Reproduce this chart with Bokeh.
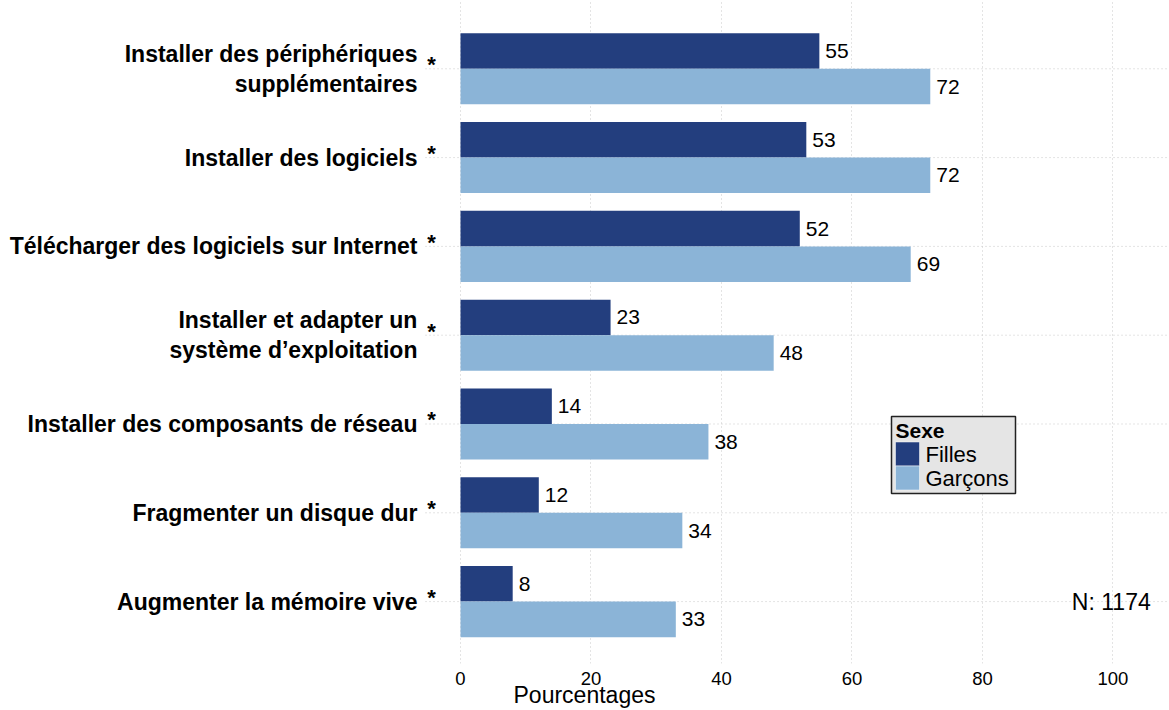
from bokeh.plotting import figure
from bokeh.models import ColumnDataSource, FixedTicker, Range1d, Label
from bokeh.core.properties import value
from bokeh.embed import file_html
from bokeh.resources import INLINE

categories = [
    "Installer des périphériques\nsupplémentaires",
    "Installer des logiciels",
    "Télécharger des logiciels sur Internet",
    "Installer et adapter un\nsystème d’exploitation",
    "Installer des composants de réseau",
    "Fragmenter un disque dur",
    "Augmenter la mémoire vive",
]
filles = [55, 53, 52, 23, 14, 12, 8]
garcons = [72, 72, 69, 48, 38, 34, 33]
series_names = ["Filles", "Garçons"]
legend_title = "Sexe"
x_ticks = [0, 20, 40, 60, 80, 100]
n_label = "N: 1174"

DARK = "#233E7E"
LIGHT = "#8BB4D7"
FONT = "Liberation Sans"
GRID = "#c8c8c8"

FW, FH = 1168, 663
XR = (-70.50, 108.51)
YR = (0.303, 7.769)

n = len(categories)
pos = [n - i for i in range(n)]

src_f = ColumnDataSource(dict(y=[p_ + 0.2 for p_ in pos], v=filles, t=[str(v) for v in filles]))
src_g = ColumnDataSource(dict(y=[p_ - 0.2 for p_ in pos], v=garcons, t=[str(v) for v in garcons]))
src_c = ColumnDataSource(dict(y=pos, label=categories, star=["*"] * n,
                              lx=[-6.6] * n, sx=[-4.44] * n,
                              gx0=[-5.36] * n, gx1=[XR[1]] * n))

p = figure(frame_width=FW, frame_height=FH, output_backend="svg", toolbar_location=None,
           x_range=Range1d(*XR), y_range=Range1d(*YR),
           y_axis_location=None, min_border_left=0, min_border_right=0,
           min_border_top=0, min_border_bottom=0)
p.outline_line_color = None
p.background_fill_color = "white"
p.border_fill_color = "white"

# grids
p.ygrid.visible = False
p.xgrid.ticker = FixedTicker(ticks=x_ticks)
p.xgrid.grid_line_color = GRID
p.xgrid.grid_line_dash = "1 3"
p.xgrid.grid_line_width = 1
p.segment(x0="gx0", x1="gx1", y0="y", y1="y", source=src_c, line_color=GRID,
          line_dash="1 3", line_width=1)

# bars
p.hbar(y="y", left=0, right="v", height=0.4, source=src_f, fill_color=DARK, line_color=None)
p.hbar(y="y", left=0, right="v", height=0.4, source=src_g, fill_color=LIGHT, line_color=None)

# value labels
for s in (src_f, src_g):
    p.text(x="v", y="y", text="t", source=s, x_offset=6, text_align="left",
           text_baseline="middle", text_font=value(FONT), text_font_size="21px",
           text_color="black")

# category labels
p.text(x="lx", y="y", text="label", source=src_c, text_align="right", text_baseline="middle",
       text_font=value(FONT), text_font_size="23px", text_font_style="bold",
       text_line_height=1.15, text_color="black")
p.text(x="sx", y="y", text="star", source=src_c, text_align="center", text_baseline="middle",
       y_offset=-4, text_font=value(FONT), text_font_size="22px", text_font_style="bold",
       text_color="black")

# N label
p.add_layout(Label(x=93.7, y=pos[-1], text=n_label, text_align="left", text_baseline="middle",
                   text_font=FONT, text_font_size="23px", text_color="black"))

# x axis
ax = p.xaxis[0]
ax.ticker = FixedTicker(ticks=x_ticks)
ax.axis_line_color = None
ax.major_tick_line_color = None
ax.minor_tick_line_color = None
ax.major_label_text_font = FONT
ax.major_label_text_font_size = "18.5px"
ax.major_label_text_color = "black"
ax.major_label_text_line_height = 0.8
ax.major_label_standoff = 2
ax.axis_label = "Pourcentages"
ax.axis_label_text_font = FONT
ax.axis_label_text_font_size = "23px"
ax.axis_label_text_font_style = "normal"
ax.axis_label_text_color = "black"
ax.axis_label_text_line_height = 0.8
ax.axis_label_standoff = -6

# legend box (drawn as glyphs, positioned in screen pixels relative to the frame)
px_x = (XR[1] - XR[0]) / FW
px_y = (YR[1] - YR[0]) / FH


def dx(px):
    return XR[0] + px * px_x


def dy(px):
    return YR[1] - px * px_y


LX, LY, LW, LH = 891, 416, 124, 77
SQ = 24
p.quad(left=dx(LX), right=dx(LX + LW), top=dy(LY), bottom=dy(LY + LH),
       fill_color="#e5e5e5", line_color="#222222", line_width=1.5)
sq_top = [LY + 25.5 + k * SQ for k in range(len(series_names))]
p.quad(left=[dx(LX + 4)] * 2, right=[dx(LX + 4 + SQ)] * 2,
       top=[dy(t) for t in sq_top], bottom=[dy(t + SQ) for t in sq_top],
       fill_color=[DARK, LIGHT], line_color="white", line_width=0.5)
p.text(x=[dx(LX + 4)], y=[dy(LY + 14)], text=[legend_title], text_align="left",
       text_baseline="middle", text_font=value(FONT), text_font_size="21px",
       text_font_style="bold", text_color="black")
p.text(x=[dx(LX + 34)] * 2, y=[dy(t + SQ / 2) for t in sq_top], text=series_names,
       text_align="left", text_baseline="middle", text_font=value(FONT),
       text_font_size="22px", text_color="black")

open("out.html", "w").write(file_html(p, INLINE))
